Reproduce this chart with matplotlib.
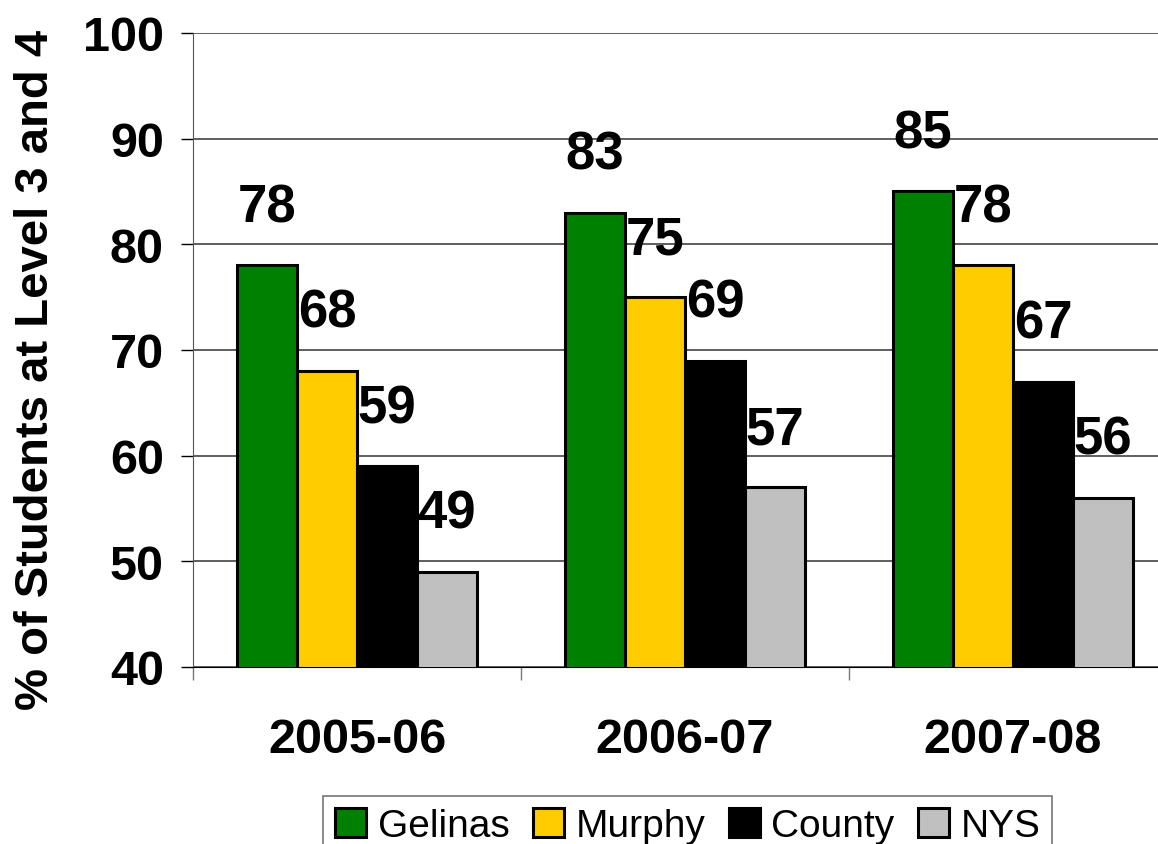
import matplotlib.pyplot as plt
import numpy as np

years = ["2005-06", "2006-07", "2007-08"]
series = ["Gelinas", "Murphy", "County", "NYS"]
gelinas = [78, 83, 85]
murphy = [68, 75, 78]
county = [59, 69, 67]
nys = [49, 57, 56]
colors = ["#008000", "#FFCC00", "#000000", "#C0C0C0"]

plt.rcParams['font.family'] = ['Liberation Sans', 'DejaVu Sans']

fig = plt.figure(figsize=(11.58, 8.45), dpi=100)
ax = fig.add_axes([0.1667, 0.2095, 0.8497, 0.7503])

x = np.arange(len(years))
w = 0.183
data = [gelinas, murphy, county, nys]
for i, (vals, c, name) in enumerate(zip(data, colors, series)):
    pos = x + (i - 1.5) * w
    ax.bar(pos, vals, w, bottom=0, color=c, edgecolor="black", linewidth=2.2,
           label=name, zorder=3)
    for p, v in zip(pos, vals):
        ax.text(p, v + 5.5, str(v), ha="center", va="center", fontsize=38,
                fontweight="bold", zorder=4)

ax.set_ylim(40, 100)
ax.set_xlim(-0.5, 2.5)
ax.set_yticks(range(40, 101, 10))
ax.yaxis.grid(True, color="#333333", linewidth=1.1, zorder=0)
ax.tick_params(axis="y", labelsize=35, length=9, width=1, direction="out", pad=12)
for t in ax.get_yticklabels():
    t.set_fontweight("bold")

ax.set_xticks(x)
ax.set_xticklabels(years, fontsize=35, fontweight="bold")
ax.tick_params(axis="x", which="major", length=0, pad=36)
ax.set_xticks([-0.5, 0.5, 1.5, 2.5], minor=True)
ax.tick_params(axis="x", which="minor", length=9, width=1, color="#777777")

for s in ["top", "right"]:
    ax.spines[s].set_visible(False)
ax.spines["left"].set_color("#555555")
ax.spines["bottom"].set_color("black")

ax.set_ylabel("% of Students at Level 3 and 4", fontsize=34, fontweight="bold")
ax.yaxis.set_label_coords(-0.137, 0.47)

leg = fig.legend(loc="upper left", bbox_to_anchor=(0.279, 0.057), ncol=4,
                 fontsize=28, frameon=True, fancybox=False, edgecolor="#555555",
                 handlelength=0.8, handleheight=0.8, handletextpad=0.3,
                 columnspacing=0.6, borderpad=0.3, borderaxespad=0)
leg.get_frame().set_linewidth(1.2)

fig.savefig("out.png", dpi=100)
